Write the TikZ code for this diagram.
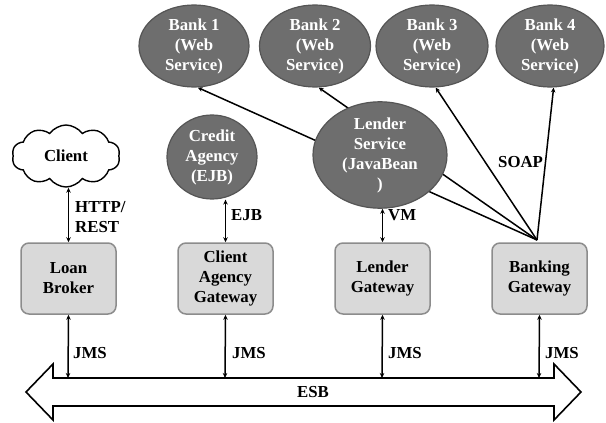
\documentclass[tikz,border=0pt]{standalone}
\usepackage{fontspec}
\setmainfont{Liberation Serif}
\usetikzlibrary{shapes.geometric,shapes.symbols,backgrounds,arrows.meta}
\definecolor{ellfill}{HTML}{6E6E6E}
\definecolor{ellline}{HTML}{555555}
\definecolor{boxfill}{HTML}{D9D9D9}
\definecolor{boxline}{HTML}{8C8C8C}
\begin{document}
\begin{tikzpicture}[x=1pt,y=-1pt,
  txt/.style={font=\fontsize{16.8}{20}\selectfont\bfseries, align=center},
  svc/.style={txt, ellipse, draw=ellline, line width=1.2pt, fill=ellfill, text=white, inner sep=0pt},
  gw/.style={txt, rectangle, rounded corners=8pt, draw=boxline, line width=1.5pt, fill=boxfill,
     minimum width=95pt, minimum height=71pt, inner sep=0pt},
  lbl/.style={font=\fontsize{16.8}{20}\selectfont\bfseries, align=left, anchor=west, inner sep=0pt},
  conn/.style={line width=1.5pt, {Stealth[length=5pt,width=4.5pt]}-{Stealth[length=5pt,width=4.5pt]}},
  fan/.style={line width=1.5pt, -{Stealth[length=5pt,width=4.5pt]}}
]
\useasboundingbox (0,0) rectangle (606,423);
% banks
\node[svc, minimum width=110pt, minimum height=82pt] (bank1) at (194,46) {Bank 1\\(Web\\Service)};
\node[svc, minimum width=111pt, minimum height=82pt] (bank2) at (315,46) {Bank 2\\(Web\\Service)};
\node[svc, minimum width=112pt, minimum height=82pt] (bank3) at (432,46) {Bank 3\\(Web\\Service)};
\node[svc, minimum width=108pt, minimum height=82pt] (bank4) at (550,46) {Bank 4\\(Web\\Service)};
% middle row
\node[draw, line width=1.4pt, cloud, cloud puffs=10, cloud puff arc=110, aspect=2,
      minimum width=108pt, minimum height=62pt, inner sep=0pt, txt] (client) at (66,156) {Client};
\node[svc, minimum width=90pt, minimum height=84pt] (credit) at (212,157) {Credit\\Agency\\(EJB)};
\node[svc, minimum width=134pt, minimum height=84pt] (lender) at (380,155) {Lender\\Service\\(JavaBean\\)};
% gateways
\node[gw] (loan) at (68.5,278.5) {Loan\\Broker};
\node[gw] (cag) at (225.5,278.5) {Client\\Agency\\Gateway};
\node[gw] (lgw) at (382.5,278.5) {Lender\\Gateway};
\node[gw] (bgw) at (539.5,278.5) {Banking\\Gateway};
% fan from banking gateway
\coordinate (hub) at (537,240);
\begin{pgfonlayer}{background}
\draw[fan] (hub) -- (bank1.-85);
\draw[fan] (hub) -- (bank2.-85);
\draw[fan] (hub) -- (bank3.-85);
\draw[fan] (hub) -- (bank4.-85);
\end{pgfonlayer}
\node[lbl] (soap) at (498,162) {SOAP};
% vertical connectors
\draw[conn] (client.south -| loan.north) -- (loan.north);
\node[lbl] (http) at (75,217) {HTTP/\\REST};
\draw[conn] (credit.south -| cag.north) -- (cag.north);
\node[lbl] (ejb) at (231,215) {EJB};
\draw[conn] (lender.south -| lgw.north) -- (lgw.north);
\node[lbl] (vm) at (388,215) {VM};
% ESB
\coordinate (t1) at (68,378);
\coordinate (t2) at (225,378);
\coordinate (t3) at (382,378);
\coordinate (t4) at (539,378);
\draw[line width=1.6pt, fill=white, line join=miter]
  (26,392) -- (53,364) -- (53,378) -- (554,378) -- (554,364) -- (581,392)
  -- (554,420) -- (554,406) -- (53,406) -- (53,420) -- cycle;
\node[font=\fontsize{16.8}{20}\selectfont\bfseries] (esb) at (313,392) {ESB};
\draw[conn] (loan.south) -- (t1);
\draw[conn] (cag.south) -- (t2);
\draw[conn] (lgw.south) -- (t3);
\draw[conn] (bgw.south) -- (t4);
\node[lbl] (jms1) at (73,353) {JMS};
\node[lbl] (jms2) at (232,353) {JMS};
\node[lbl] (jms3) at (388,353) {JMS};
\node[lbl] (jms4) at (545,353) {JMS};
\end{tikzpicture}
\end{document}
